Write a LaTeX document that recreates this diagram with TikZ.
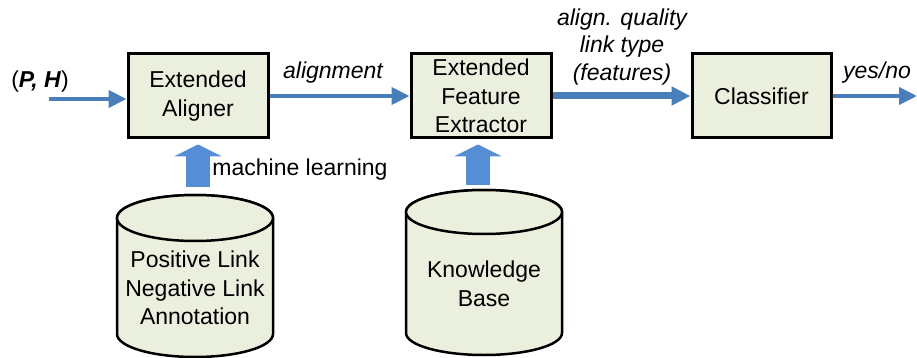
\documentclass[tikz,border=0pt]{standalone}
\usepackage{fontspec}
\setmainfont{Liberation Sans}
\usetikzlibrary{arrows.meta}
\definecolor{boxfill}{HTML}{EBEFDE}
\definecolor{thinblue}{HTML}{4A7EBB}
\definecolor{thickblue}{HTML}{558ED5}
\begin{document}
\begin{tikzpicture}[x=1pt,y=-1pt,
  font=\fontsize{23}{28.5}\selectfont,
  proc/.style={draw=black, line width=3pt, fill=boxfill, minimum width=140pt, minimum height=84pt, align=center, inner sep=0pt},
  flow/.style={draw=thinblue, line width=4pt, -{Triangle[width=17pt,length=18pt]}},
  bigflow/.style={draw=thinblue, line width=7pt, -{Triangle[width=18pt,length=19pt]}},
  feed/.style={draw=thickblue, line width=24pt, -{Triangle[width=48pt,length=12pt]}, shorten >=5pt},
  lbl/.style={font=\fontsize{23}{27.5}\selectfont\itshape, align=center, inner sep=0pt},
  plain/.style={align=center, inner sep=0pt},
  db/.style={draw=black, line width=2.5pt, fill=boxfill}]
\useasboundingbox (0,0) rectangle (917,358);

% boxes
\node[proc] (al) at (198,96) {Extended\\Aligner};
\node[proc] (fe) at (481,96) {Extended\\Feature\\Extractor};
\node[proc, minimum width=139pt] (cl) at (761.5,96) {Classifier};

% cylinders
\path[db] (117,218) -- (117,334) arc[start angle=180,end angle=0,x radius=78,y radius=23] -- (273,218) arc[start angle=0,end angle=-180,x radius=78,y radius=23] -- cycle;
\path[db] (195,218) ellipse[x radius=78,y radius=23];
\node[plain] (ann) at (195,288) {Positive Link\\Negative Link\\Annotation};

\path[db] (406,212) -- (406,333) arc[start angle=180,end angle=0,x radius=78,y radius=22] -- (562,212) arc[start angle=0,end angle=-180,x radius=78,y radius=22] -- cycle;
\path[db] (484,212) ellipse[x radius=78,y radius=22];
\node[plain] (kb) at (484,284) {Knowledge\\Base};

% connectors
\coordinate (in) at (49,99);
\coordinate (out) at (917,97);
\coordinate (f1) at (198,187);
\coordinate (f2) at (478,185);
\draw[flow] (in) -- (in -| al.west);
\draw[flow] (al.east) -- (fe.west);
\draw[bigflow] (fe.east) -- (cl.west);
\draw[flow] (cl.east) -- (cl.east -| out);
\draw[feed] (f1) -- (f1 |- al.south);
\draw[feed] (f2) -- (f2 |- fe.south);

% labels
\node[plain] (ph) at (40,82) {(\textbf{\textit{P, H}})};
\node[lbl] (lal) at (333,73) {alignment};
\node[lbl] (lft) at (622,47) {align. quality\\link type\\(features)};
\node[lbl] (lyn) at (877,73) {yes/no};
\node[plain] (lml) at (300,170) {machine learning};
\end{tikzpicture}
\end{document}
